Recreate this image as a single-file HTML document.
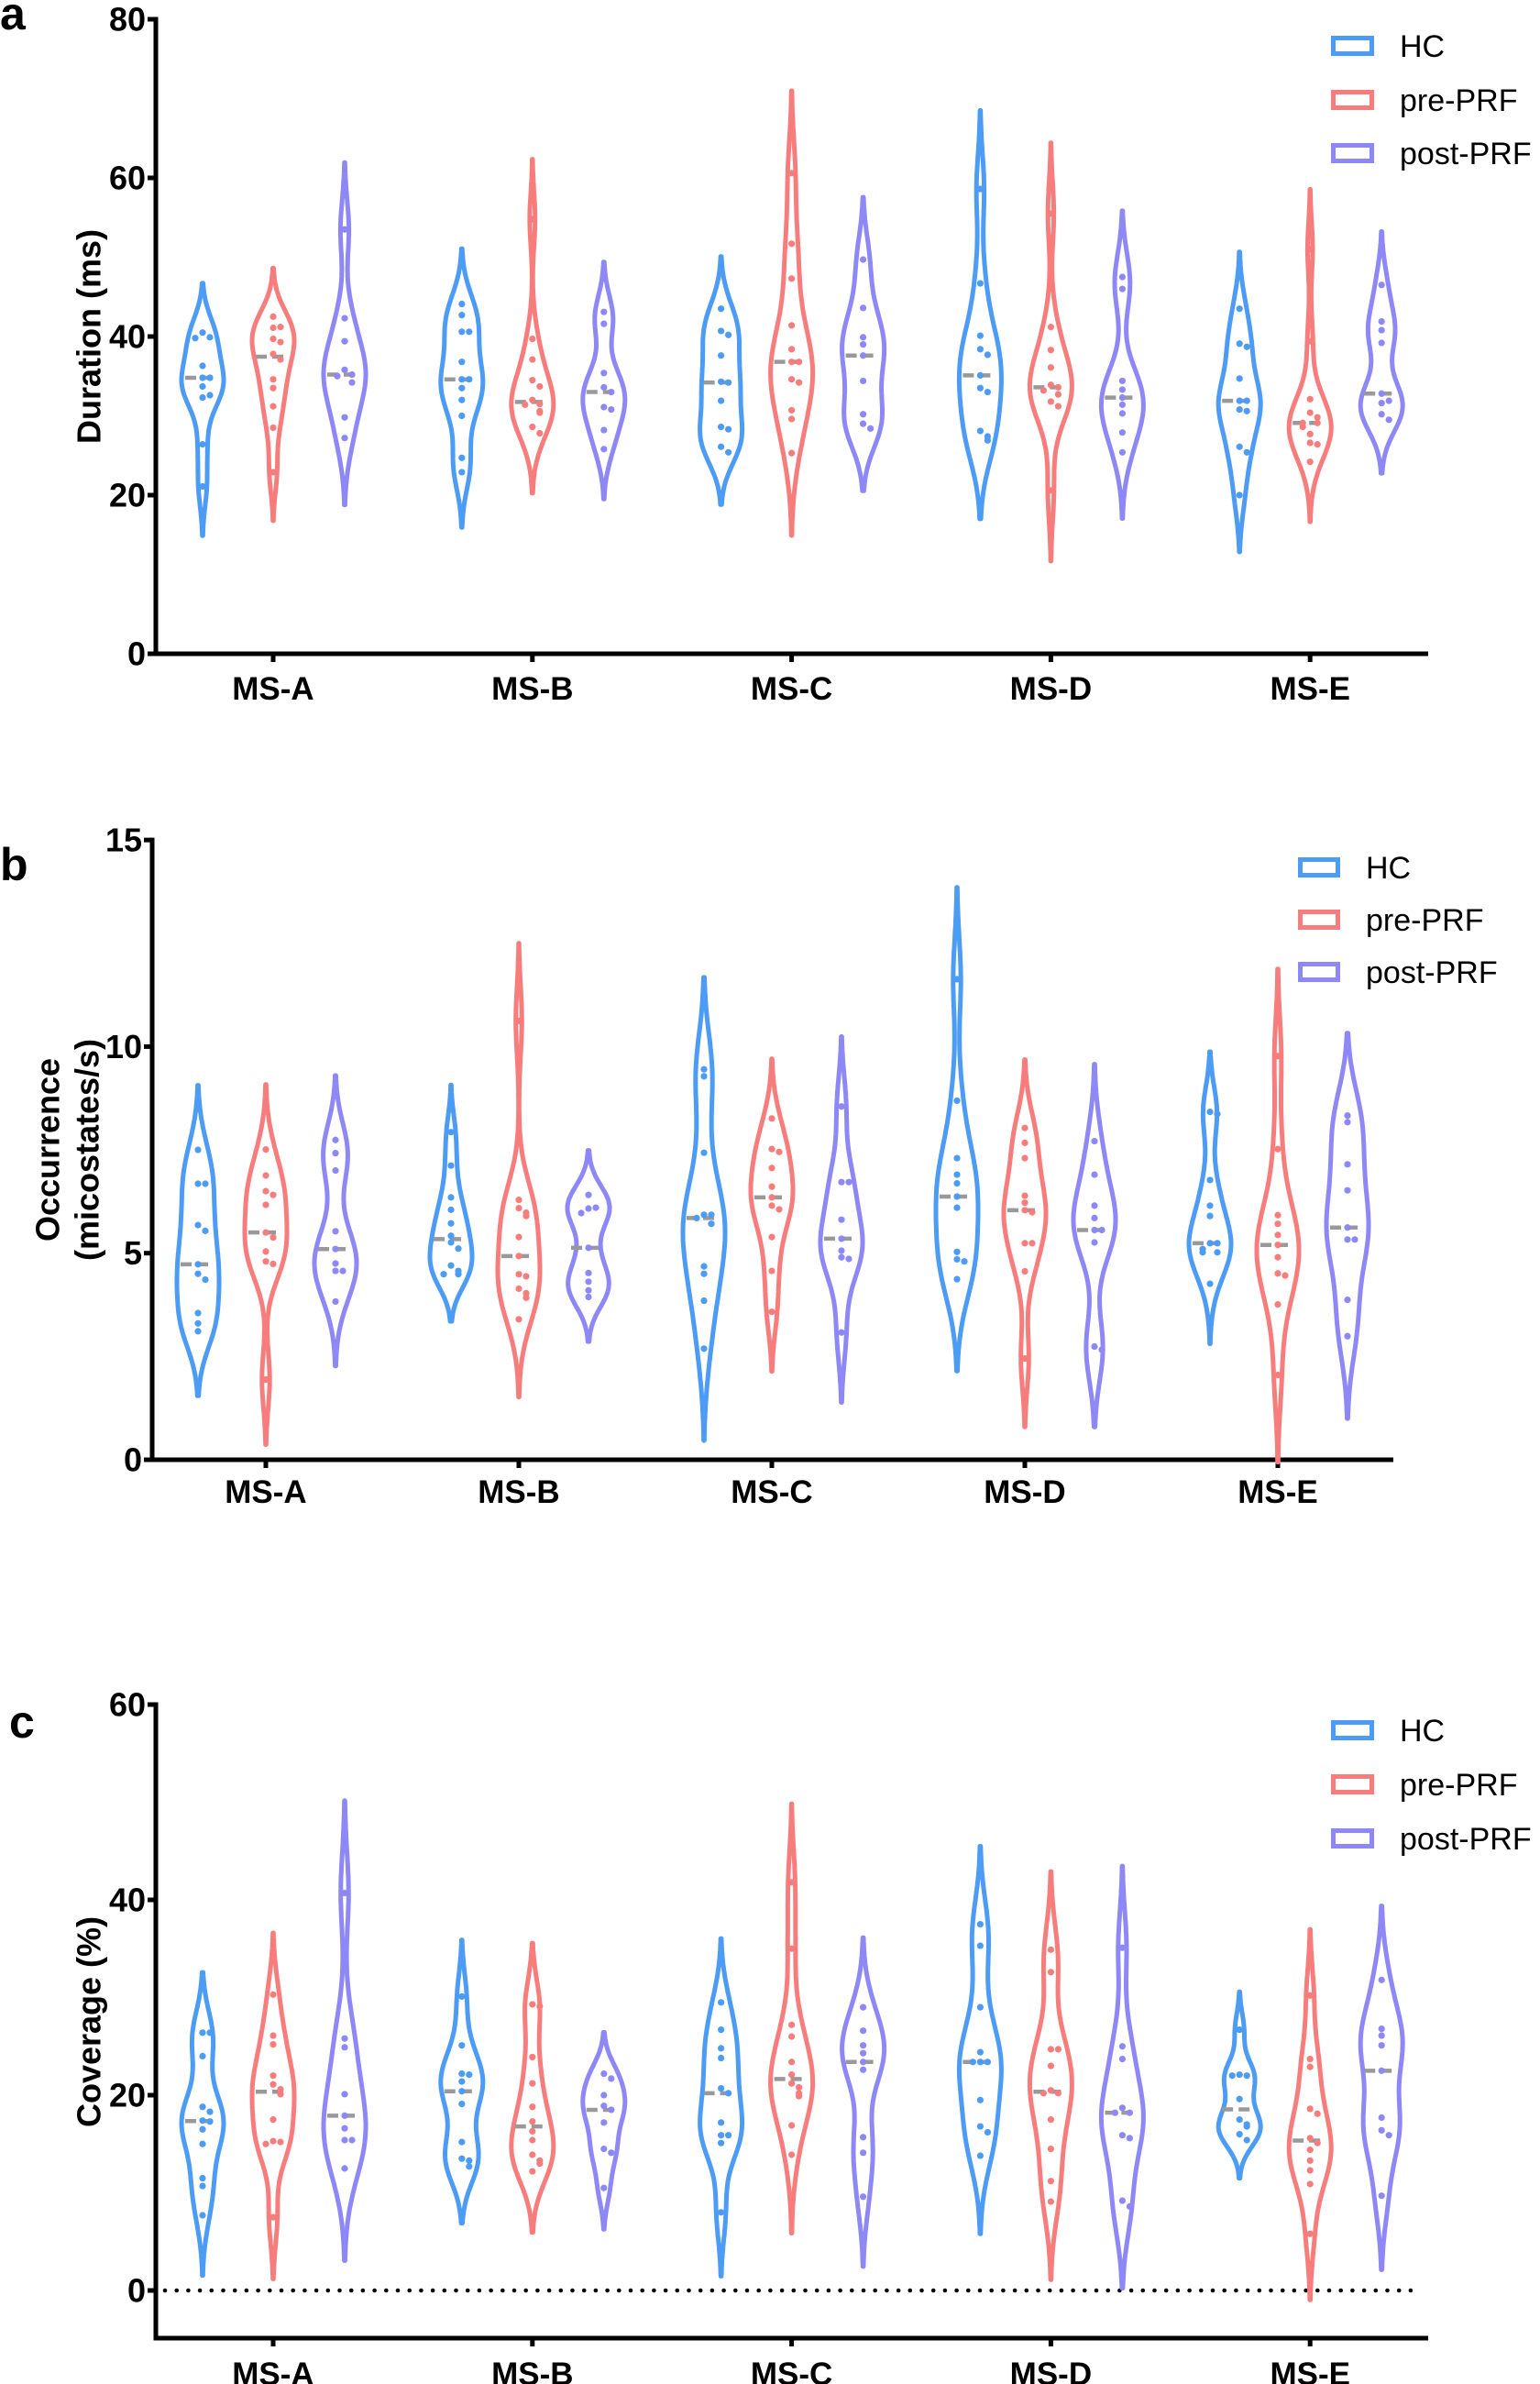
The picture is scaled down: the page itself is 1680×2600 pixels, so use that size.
<!DOCTYPE html>
<html><head><meta charset="utf-8"><title>Microstate violin plots</title>
<style>
html,body{margin:0;padding:0;background:#fff;}
svg{display:block;font-family:"Liberation Sans",Arial,sans-serif;}
</style></head>
<body>
<svg id="chart" width="1680" height="2600" viewBox="0 0 1680 2600" xmlns="http://www.w3.org/2000/svg">
</svg>
<script>
// ---------- DATA ----------
const categories = ['MS-A','MS-B','MS-C','MS-D','MS-E'];
const groupNames = ['HC','pre-PRF','post-PRF'];

// Panel a: Duration (ms)
const durationHC = [
 [40.5,39.9,39.8,36.3,34.8,34.8,33.7,32.3,32.6,26.4,21.1],
 [44.1,42.7,40.6,40.6,36.8,34.6,34.6,33.5,32.0,30.0,24.7,22.9],
 [43.5,40.7,40.2,37.6,34.3,34.2,31.9,28.6,28.3,26.1,25.4],
 [58.6,46.7,40.1,38.4,37.7,35.1,33.5,33.0,28.1,27.4,26.9],
 [43.5,39.1,38.7,34.7,31.9,31.9,30.8,30.6,26.1,25.4,20.0]
];
const durationPre = [
 [42.5,41.1,41.2,39.7,39.3,37.8,37.1,34.6,33.5,31.2,28.5,22.9],
 [54.8,39.7,37.1,34.5,33.7,32.0,31.5,31.4,30.6,30.4,28.6,27.8],
 [60.6,51.7,47.3,41.4,38.4,36.8,36.8,34.6,34.2,30.7,29.6,25.3],
 [55.5,41.2,38.3,36.1,33.9,33.6,33.2,32.7,31.8,31.2,20.6],
 [51.0,39.4,32.1,30.4,29.8,29.1,29.1,28.6,27.7,26.6,26.4,24.2]
];
const durationPost = [
 [53.5,42.3,39.4,35.8,35.2,35.0,34.2,29.8,27.2],
 [43.1,41.6,35.4,33.6,33.0,31.1,30.8,28.2,25.8],
 [49.7,43.6,39.9,39.0,37.6,34.4,30.2,29.0,28.4],
 [47.5,46.0,34.4,33.3,32.3,31.4,30.3,27.9,25.4],
 [46.5,41.9,40.8,39.2,32.8,31.6,31.9,30.2,29.5]
];
const durationTicks = [0,20,40,60,80];

// Panel b: Occurrence (micostates/s)
const occurrenceHC = [
 [7.5,6.68,6.68,5.68,5.54,4.73,4.5,4.36,3.55,3.3,3.11],
 [7.93,7.12,6.35,6.05,5.72,5.42,5.26,5.11,4.7,4.57,4.49,4.49],
 [9.45,9.28,7.43,5.93,5.93,5.85,5.71,4.68,4.5,3.85,2.69],
 [11.63,8.69,7.3,6.9,6.69,6.37,6.1,5.03,4.85,4.8,4.37],
 [8.42,8.37,6.77,6.15,5.9,5.24,5.24,5.1,5.02,5.02,4.26]
];
const occurrencePre = [
 [7.51,6.88,6.5,6.41,6.17,5.5,5.38,5.04,4.8,4.74,1.94],
 [10.62,6.29,6.09,5.98,5.9,5.39,4.93,4.49,4.44,4.14,4.03,3.92,3.4],
 [8.26,7.52,7.45,7.06,6.61,6.35,6.15,6.06,5.39,4.57,3.58],
 [8.03,7.67,7.3,6.39,6.22,6.04,5.99,5.24,5.24,4.56,2.45],
 [9.77,7.52,5.92,5.71,5.44,5.2,4.9,4.51,4.46,3.76,2.05]
];
const occurrencePost = [
 [7.74,7.42,7.0,5.53,5.1,4.75,4.57,4.57,3.83],
 [6.41,6.08,6.1,5.97,5.13,4.52,4.31,4.1,3.94],
 [8.55,6.72,6.72,5.81,5.35,5.06,4.9,4.86,3.08],
 [7.71,6.9,6.15,5.85,5.56,5.56,5.26,2.74,2.66],
 [8.33,8.17,7.15,6.52,5.62,5.33,5.33,3.87,2.99]
];
const occurrenceTicks = [0,5,10,15];

// Panel c: Coverage (%)
const coverageHC = [
 [26.4,26.4,24.0,18.8,18.3,17.4,17.3,16.5,15.0,11.5,10.7,7.7],
 [30.1,25.1,22.2,22.1,21.4,20.4,19.1,15.2,13.5,13.3,12.7],
 [29.5,26.7,24.8,23.8,20.7,20.2,17.2,15.9,15.9,15.1,8.0],
 [37.5,35.3,29.0,24.4,23.4,23.4,23.4,19.5,16.8,16.2,13.8],
 [26.7,22.1,22.0,22.0,19.6,17.5,17.0,16.8,16.0,15.4]
];
const coveragePre = [
 [30.3,26.1,25.2,22.0,21.1,20.6,20.1,17.5,15.3,15.2,15.0,7.5],
 [29.3,29.1,23.9,21.2,18.8,17.3,16.3,15.4,13.9,13.3,13.0,12.2],
 [41.8,35.0,27.2,26.0,23.4,22.1,21.2,20.8,20.2,19.9,16.9,13.9],
 [34.9,32.6,24.7,24.7,23.0,20.5,20.2,20.2,17.5,14.5,11.2,9.1],
 [30.2,23.7,22.9,18.6,18.1,15.6,15.1,14.4,13.3,12.3,10.9,5.8]
];
const coveragePost = [
 [40.7,25.8,24.9,20.1,17.9,16.6,15.4,15.4,12.5],
 [22.2,21.7,20.0,18.9,18.5,17.2,14.5,14.1,10.5],
 [29.0,26.6,25.1,24.3,23.4,22.6,15.7,14.1,9.6],
 [35.1,25.0,23.7,18.7,18.2,18.2,15.9,15.6,9.2,8.6],
 [31.8,26.8,26.1,25.1,22.5,17.7,16.4,15.9,9.7]
];
const coverageTicks = [0,20,40,60];

// ---------- RENDER ----------
const svg = document.getElementById('chart');
const NS = 'http://www.w3.org/2000/svg';
const colors = ['#4c9bf4','#f77d7d','#8d88f6'];

function mk(tag, attrs, parent){
  const e = document.createElementNS(NS, tag);
  for (const k in attrs) e.setAttribute(k, attrs[k]);
  (parent || svg).appendChild(e);
  return e;
}
function median(a){
  const s = a.slice().sort((x,y)=>x-y); const n = s.length;
  return n%2 ? s[(n-1)/2] : (s[n/2-1]+s[n/2])/2;
}
function kdePath(vals, cx, yScale){
  const n = vals.length;
  const mean = vals.reduce((a,b)=>a+b,0)/n;
  const sd = Math.sqrt(vals.reduce((a,b)=>a+(b-mean)*(b-mean),0)/(n-1)) || 1;
  const h = 0.7*1.06*sd*Math.pow(n,-0.2);
  const lo = Math.min(...vals) - 2.3*h, hi = Math.max(...vals) + 2.3*h;
  const N = 90, pts = [];
  let mx = 0;
  for (let i=0;i<=N;i++){
    const v = lo + (hi-lo)*i/N;
    let d = 0;
    for (const x of vals){ const z=(v-x)/h; d += Math.exp(-0.5*z*z); }
    pts.push([v,d]); if (d>mx) mx=d;
  }
  const W = 23;
  let p = '';
  pts.forEach((q,i)=>{ p += (i?'L':'M') + (cx + W*q[1]/mx).toFixed(1) + ' ' + yScale(q[0]).toFixed(1) + ' '; });
  for (let i=pts.length-1;i>=0;i--){ const q=pts[i]; p += 'L' + (cx - W*q[1]/mx).toFixed(1) + ' ' + yScale(q[0]).toFixed(1) + ' '; }
  return p + 'Z';
}

function drawPanel(cfg){
  const g = mk('g', {});
  
  
  const yScale = v => cfg.y0 - v*cfg.k;
  const xScale = (ci, gi) => cfg.x0 + ci*cfg.step + cfg.offs[gi];

  const L = mk('text', {x: cfg.letterX, y: cfg.letterY, 'font-size': 50, 'font-weight': 'bold', fill: '#000'}, g);
  L.textContent = cfg.letter;
  
  

  const ya = mk('line', {x1: cfg.ax, y1: yScale(cfg.ticks[cfg.ticks.length-1]) - 2.5, x2: cfg.ax, y2: cfg.axisBottom + 2.5, stroke: '#000', 'stroke-width': 5}, g);
  
  
  cfg.ticks.forEach(t => {
    const y = yScale(t);
    const tl = mk('line', {x1: cfg.ax - 9, y1: y, x2: cfg.ax, y2: y, stroke: '#000', 'stroke-width': 5}, g);
    
    
    const tx = mk('text', {x: cfg.ax - 11, y: y + 12.5, 'font-size': 36, 'font-weight': 'bold', 'text-anchor': 'end'}, g);
    tx.textContent = t;
    
    
  });
  const xa = mk('line', {x1: cfg.ax - 2.5, y1: cfg.axisBottom, x2: cfg.axRight, y2: cfg.axisBottom, stroke: '#000', 'stroke-width': 5}, g);
  
  
  categories.forEach((c, ci) => {
    const x = xScale(ci, 1);
    const tk = mk('line', {x1: x, y1: cfg.axisBottom, x2: x, y2: cfg.axisBottom + 9, stroke: '#000', 'stroke-width': 5}, g);
    
    
    const lb = mk('text', {x: x, y: cfg.xLabelY, 'font-size': 35, 'font-weight': 'bold', 'text-anchor': 'middle'}, g);
    lb.textContent = c;
    
    
  });
  const mid = cfg.titleY;
  cfg.title.forEach((line, li) => {
    const tx = cfg.titleX[li];
    const t = mk('text', {x: tx, y: mid, 'font-size': 36, 'font-weight': 'bold', 'text-anchor': 'middle', transform: 'rotate(-90 ' + tx + ' ' + mid + ')', 'dominant-baseline': 'central'}, g);
    t.textContent = line;
    
    
  });
  if (cfg.zeroLine){
    const y = yScale(0);
    for (let x = cfg.ax + 10; x <= cfg.axRight - 8; x += 12.7){
      const d = mk('circle', {cx: x.toFixed(1), cy: y, r: 2.3, fill: '#000'}, g);
      
      
    }
  }
  cfg.series.forEach((ser, gi) => {
    ser.forEach((vals, ci) => {
      const cx = xScale(ci, gi);
      const vg = mk('g', {}, g);
      
      
      const vp = mk('path', {d: kdePath(vals, cx, yScale), fill: 'none', stroke: colors[gi], 'stroke-width': 5, 'stroke-linejoin': 'round'}, vg);
      
      
      const m = median(vals);
      const ml = mk('line', {x1: cx - 19, y1: yScale(m), x2: cx + 17, y2: yScale(m), stroke: '#999', 'stroke-width': 4.5, 'stroke-dasharray': '12 6'}, vg);
      
      
      const placed = [];
      vals.forEach(v => {
        const y = yScale(v);
        const near = placed.filter(p => Math.abs(p - y) < 7).length;
        placed.push(y);
        const dx = near === 0 ? 0 : (near % 2 ? 8 : -8);
        const c = mk('circle', {cx: cx + dx, cy: y, r: 3.6, fill: colors[gi]}, vg);
        
        
      });
    });
  });
  groupNames.forEach((nm, gi) => {
    const y = cfg.legY[gi];
    const lg = mk('g', {}, g);
    
    
    mk('rect', {x: cfg.legX + 2.5, y: y - 8.5, width: cfg.legW - 5, height: 17, fill: 'none', stroke: colors[gi], 'stroke-width': 5}, lg);
    const t = mk('text', {x: cfg.legTX, y: y + 12, 'font-size': 34}, lg);
    t.textContent = nm;
  });
}

drawPanel({name: 'panel-a-duration', letter: 'a', letterX: 0, letterY: 32,
  y0: 713, k: 8.65, ticks: durationTicks, axisBottom: 713, ax: 170, axRight: 1558,
  x0: 298, step: 282.8, offs: [-77, 0, 78], xLabelY: 763,
  title: ['Duration (ms)'], titleX: [97], titleY: 367,
  series: [durationHC, durationPre, durationPost],
  legX: 1452, legW: 47, legTX: 1527, legY: [50, 109, 167]});

drawPanel({name: 'panel-b-occurrence', letter: 'b', letterX: 0, letterY: 960,
  y0: 1592, k: 45.06, ticks: occurrenceTicks, axisBottom: 1592, ax: 166, axRight: 1520,
  x0: 290, step: 276, offs: [-74, 0, 76], xLabelY: 1639,
  title: ['Occurrence', '(micostates/s)'], titleX: [52, 95], titleY: 1254,
  series: [occurrenceHC, occurrencePre, occurrencePost],
  legX: 1416, legW: 46, legTX: 1490, legY: [946, 1003, 1060]});

drawPanel({name: 'panel-c-coverage', letter: 'c', letterX: 10, letterY: 1895,
  y0: 2498, k: 10.65, ticks: coverageTicks, axisBottom: 2550, ax: 170, axRight: 1558,
  x0: 298, step: 282.8, offs: [-77, 0, 78], xLabelY: 2601, zeroLine: true,
  title: ['Coverage (%)'], titleX: [97], titleY: 2205,
  series: [coverageHC, coveragePre, coveragePost],
  legX: 1452, legW: 47, legTX: 1527, legY: [1887, 1946, 2005]});
</script>
</body></html>
